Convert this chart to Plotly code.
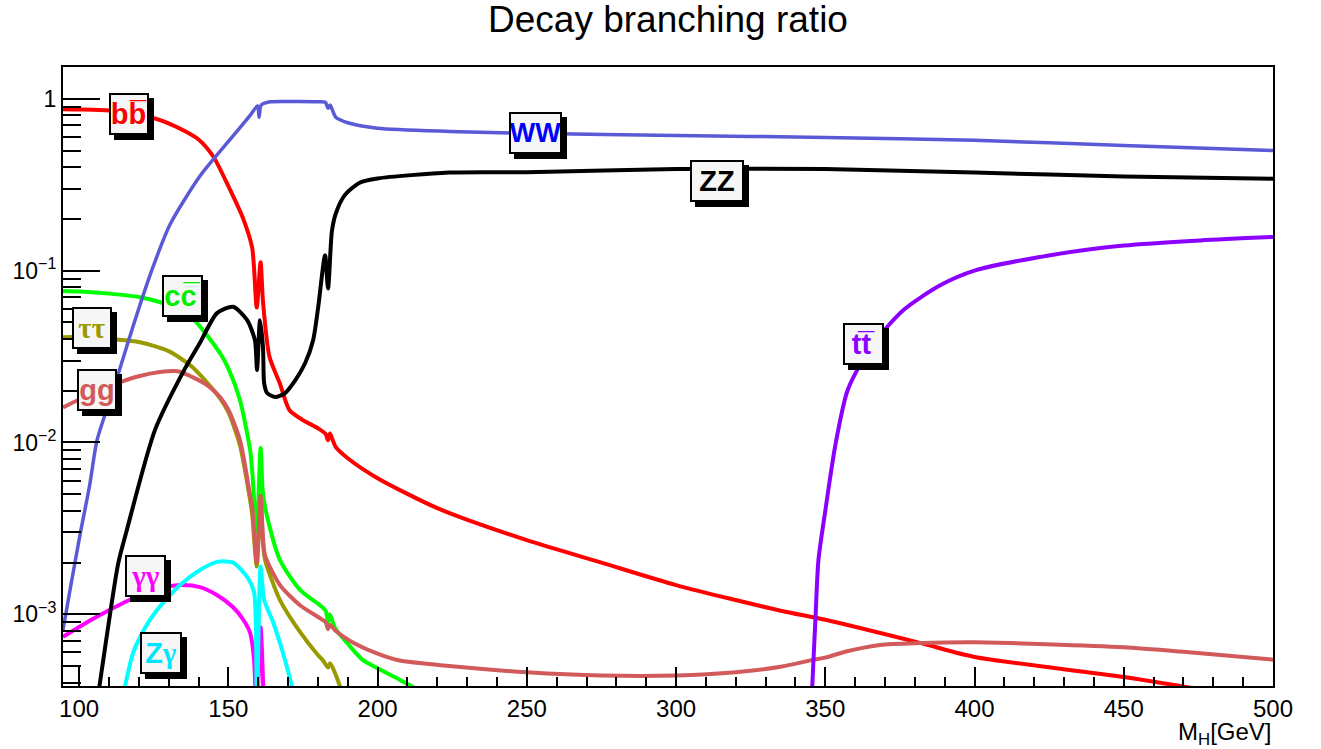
import plotly.graph_objects as go

# ---- Higgs decay branching ratios vs. Higgs mass (GeV) ----
mass_bb = [94.6, 100, 110, 120, 130, 140, 145, 150, 155, 158, 159.5, 160.8, 161.6, 163.8,
           167.2, 170.5, 175, 180, 182.6, 183.4, 184, 186, 190, 200, 220, 250, 275, 300,
           335, 350, 382, 400, 450, 500]
br_bb = [0.87, 0.867, 0.855, 0.81, 0.72, 0.58, 0.46, 0.31, 0.20, 0.135, 0.061, 0.112, 0.066,
         0.0314, 0.0222, 0.0154, 0.0135, 0.0121, 0.0112, 0.0103, 0.0113, 0.0094, 0.0081,
         0.0062, 0.00415, 0.0027, 0.0020, 0.00148, 0.00105, 0.00093, 0.00068, 0.000565,
         0.000432, 0.00031]

mass_ww = [94.6, 97, 100.3, 103.5, 106, 110, 113.5, 118, 124.3, 130.5, 140.5, 150.6, 157.3,
           159.8, 160.3, 161, 164, 170, 180, 182.5, 183.4, 184.1, 186, 190, 200, 224, 250,
           300, 350, 400, 450, 500]
br_ww = [8.1e-4, 1.4e-3, 2.9e-3, 5.6e-3, 0.0103, 0.017, 0.0263, 0.047, 0.10, 0.186, 0.355,
         0.58, 0.80, 0.91, 0.78, 0.92, 0.96, 0.965, 0.962, 0.955, 0.88, 0.92, 0.78, 0.725,
         0.674, 0.646, 0.63, 0.612, 0.596, 0.573, 0.535, 0.50]

mass_zz = [106.5, 107.6, 113.1, 116, 125.4, 135, 140.5, 146.2, 151.6, 156.3, 158.9, 159.6,
           160.6, 161.6, 162, 163, 165.7, 169, 172.4, 175.7, 178.4, 180.1, 182.4, 183.4,
           184.7, 186, 189, 194, 200, 224, 250, 300, 350, 400, 450, 500]
br_zz = [3.5e-4, 4.74e-4, 1.98e-3, 3.1e-3, 0.0118, 0.026, 0.038, 0.0566, 0.0616, 0.0515,
         0.0394, 0.0264, 0.0515, 0.0359, 0.0221, 0.0194, 0.0184, 0.0194, 0.023, 0.0289,
         0.0394, 0.0613, 0.123, 0.0788, 0.17, 0.215, 0.275, 0.325, 0.344, 0.372, 0.374,
         0.39, 0.39, 0.372, 0.353, 0.343]

mass_cc = [94.6, 100, 110, 120.4, 130, 138, 147.2, 150, 153.9, 157.3, 158, 159.5, 160.8,
           161.6, 163, 167.3, 174, 180.7, 182.6, 183.4, 184, 185.8, 190.8, 195, 200, 207.5,
           211, 215]
br_cc = [0.076, 0.0755, 0.0735, 0.070, 0.063, 0.0527, 0.0331, 0.027, 0.0176, 0.00904,
         0.0068, 0.0030, 0.0093, 0.0050, 0.0037, 2.07e-3, 1.39e-3, 1.13e-3, 1.05e-3,
         9.0e-4, 1.0e-3, 8.3e-4, 6.5e-4, 5.43e-4, 4.85e-4, 4.15e-4, 3.85e-4, 3.5e-4]

mass_tautau = [94.6, 100, 110, 120.4, 130, 138, 147.2, 150, 153.9, 157.3, 158, 159.5, 160.8,
               161.6, 162.3, 167.3, 174, 180, 181.7, 183.4, 184.1, 187.4, 188]
br_tautau = [0.041, 0.041, 0.040, 0.0383, 0.034, 0.0274, 0.0181, 0.015, 9.6e-3, 4.6e-3,
             3.8e-3, 1.9e-3, 4.6e-3, 2.6e-3, 2.07e-3, 1.21e-3, 7.9e-4, 5.8e-4, 5.4e-4,
             4.9e-4, 5.2e-4, 3.8e-4, 3.4e-4]

mass_gg = [94.6, 100, 112.7, 120, 127.1, 133, 138, 143, 147.2, 150, 153.9, 157.3, 158,
           159.5, 160.8, 161.6, 162.3, 167.3, 174, 180.7, 182.6, 183.4, 184, 186, 190.8,
           200, 207, 224, 250, 275, 300, 320, 335, 345.8, 350, 357.3, 368.4, 381.8, 400,
           424, 450, 469, 500]
br_gg = [0.016, 0.0178, 0.0221, 0.0243, 0.0257, 0.026, 0.024, 0.0215, 0.0184, 0.0155,
         0.0103, 4.9e-3, 4.2e-3, 2.0e-3, 4.9e-3, 2.8e-3, 2.2e-3, 1.48e-3, 1.13e-3, 9.5e-4,
         9.0e-4, 8.2e-4, 8.7e-4, 8.0e-4, 7.0e-4, 5.9e-4, 5.4e-4, 5.0e-4, 4.6e-4, 4.4e-4,
         4.4e-4, 4.6e-4, 4.95e-4, 5.43e-4, 5.6e-4, 6.1e-4, 6.64e-4, 6.8e-4, 6.87e-4,
         6.7e-4, 6.43e-4, 6.07e-4, 5.45e-4]

mass_gamgam = [94.6, 100, 107, 118.1, 126, 133.8, 140.5, 146, 151.6, 155, 157.3, 158.6,
               159.5, 160.8, 162]
br_gamgam = [7.4e-4, 8.45e-4, 9.9e-4, 1.24e-3, 1.40e-3, 1.48e-3, 1.44e-3, 1.3e-3, 1.1e-3,
             9.3e-4, 7.8e-4, 5.5e-4, 2.5e-4, 8.4e-4, 2.5e-4]

mass_zgam = [115, 115.4, 118.1, 122, 126.1, 133.8, 140.5, 146.2, 151.6, 156.3, 158.6, 159.5,
             160.8, 162, 165, 168, 171.3, 172]
br_zgam = [3.2e-4, 3.8e-4, 5.97e-4, 8.3e-4, 1.06e-3, 1.48e-3, 1.81e-3, 2.02e-3, 2.0e-3,
           1.65e-3, 1.35e-3, 2.5e-4, 1.9e-3, 1.21e-3, 9.0e-4, 6.2e-4, 3.8e-4, 3.3e-4]

mass_tt = [345.3, 345.5, 346.7, 347.7, 350, 353.3, 357.5, 365.2, 376.2, 388.5, 400, 425.4,
           450, 475.6, 500]
br_tt = [2.8e-4, 3.4e-4, 9.4e-4, 2.07e-3, 4.0e-3, 9.5e-3, 0.0202, 0.0359, 0.059, 0.0822,
         0.10, 0.123, 0.14, 0.150, 0.157]

# axis ticks
x_tick_vals = [100, 150, 200, 250, 300, 350, 400, 450, 500]
y_tick_vals = [1e-3, 1e-2, 1e-1, 1]
y_tick_text = ["10<sup>\u22123</sup>", "10<sup>\u22122</sup>", "10<sup>\u22121</sup>", "1"]

SERIF = "<span style='font-family:Liberation Serif'>{}</span>"

# name, masses, ratios, line colour, width, label text, label colour,
# label (x, log10 y), box width, label font size
channels = [
    ("bb", mass_bb, br_bb, "#ff0000", 4, "bb\u0305", "#ff0000", (116.7, -0.091), 36, 29),
    ("tautau", mass_tautau, br_tautau, "#999900", 4, SERIF.format("\u03c4\u03c4"), "#999900", (104.3, -1.335), 36, 29),
    ("cc", mass_cc, br_cc, "#00ff00", 4, "cc\u0305", "#00ee00", (134.5, -1.148), 37, 29),
    ("gg", mass_gg, br_gg, "#d25a5a", 4, "gg", "#d25a5a", (106.0, -1.695), 36, 29),
    ("gamgam", mass_gamgam, br_gamgam, "#ff00ff", 4, SERIF.format("\u03b3\u03b3"), "#ff00ff", (122.4, -2.777), 37, 29),
    ("Zgam", mass_zgam, br_zgam, "#00ffff", 4, "Z" + SERIF.format("\u03b3"), "#00e5ff", (127.4, -3.225), 38, 29),
    ("WW", mass_ww, br_ww, "#5a5ad6", 3.5, "WW", "#0000ff", (252.8, -0.197), 49, 27),
    ("ZZ", mass_zz, br_zz, "#000000", 4, "ZZ", "#000000", (313.8, -0.481), 50, 29),
    ("tt", mass_tt, br_tt, "#8c00ff", 4, "tt\u0305", "#8c00ff", (362.7, -1.428), 37, 29),
]

fig = go.Figure()
for name, m, br, col, w, *_ in channels:
    fig.add_trace(go.Scatter(x=m, y=br, mode="lines", name=name, showlegend=False,
                             line=dict(color=col, width=w, shape="spline", smoothing=0.7),
                             hoverinfo="skip"))

# channel labels: framed boxes with a drop shadow
for name, m, br, col, w, text, tcol, (lx, ly), bw, fs in channels:
    for is_shadow in (True, False):
        fig.add_annotation(
            x=lx, y=ly, xref="x", yref="y", text="<b>" + text + "</b>", showarrow=False,
            font=dict(family="Liberation Sans", size=fs,
                      color="#000000" if is_shadow else tcol),
            bgcolor="#000000" if is_shadow else "#f6f6f6",
            bordercolor="#000000", borderwidth=2, borderpad=0,
            width=bw, height=38, align="center", valign="middle",
            xshift=5 if is_shadow else 0, yshift=-5 if is_shadow else 0,
        )

minor_y = [k * 10.0 ** e for e in range(-4, 0) for k in range(2, 10)]

fig.update_layout(
    width=1321, height=749,
    margin=dict(l=63, r=48, t=67, b=63),
    paper_bgcolor="white", plot_bgcolor="white",
    font=dict(family="Liberation Sans", color="black"),
    title=dict(text="Decay branching ratio", x=0.5, xref="paper", xanchor="center",
               y=1 - 19 / 749, yanchor="middle", font=dict(size=37, color="black")),
    xaxis=dict(range=[94.6, 500], showgrid=False, zeroline=False,
               showline=True, mirror=True, linecolor="black", linewidth=2,
               ticks="inside", ticklen=19, tickwidth=2, tickcolor="black",
               tickmode="array", tickvals=x_tick_vals,
               tickfont=dict(size=24, color="black"),
               minor=dict(ticks="inside", ticklen=9, tickwidth=2, tickcolor="black",
                          dtick=10, showgrid=False)),
    yaxis=dict(type="log", range=[-3.417, 0.185], showgrid=False, zeroline=False,
               showline=True, mirror=True, linecolor="black", linewidth=2,
               ticks="inside", ticklen=37, tickwidth=2, tickcolor="black",
               tickmode="array", tickvals=y_tick_vals, ticktext=y_tick_text,
               tickfont=dict(size=23, color="black"),
               minor=dict(ticks="inside", ticklen=18, tickwidth=2, tickcolor="black",
                          tickmode="array", tickvals=minor_y, showgrid=False)),
)

fig.add_annotation(
    text="M<sub>H</sub>[GeV]", xref="paper", yref="paper", x=1, y=-0.048,
    xanchor="right", yanchor="top", showarrow=False,
    font=dict(family="Liberation Sans", size=24, color="black"),
)

fig.write_html("out.html")
